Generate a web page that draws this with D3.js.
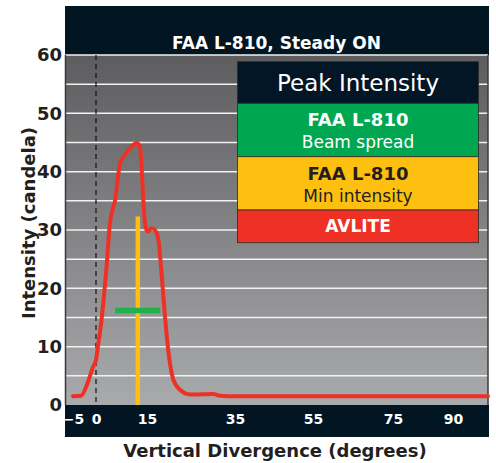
<!DOCTYPE html>
<html>
<head>
<meta charset="utf-8">
<script src="https://cdn.jsdelivr.net/npm/d3@7"></script>
<style>
body { margin: 0; background: #fff; }
text { font-family: "DejaVu Sans", sans-serif; font-weight: bold; }
</style>
</head>
<body>
<div id="chart"></div>
<script>
/* data */
var curve_deg = [-5, -3.2, -2, -0.6, 0, 0.7, 1.2, 3.1, 4.1, 5.6, 7.1, 8.5, 10.5, 12, 12.9, 13.4, 13.9, 14.4, 15.1, 16.1, 16.8, 17.6, 18.3, 19.1, 19.9, 21, 22.5, 24.8, 30, 31.6, 35.6, 99];
var curve_cd = [1.5, 1.6, 3.4, 6.6, 7.7, 10.6, 12.6, 23.7, 31.2, 35.1, 41.5, 42.9, 44.3, 44.9, 44.3, 40.9, 35.1, 31.2, 29.7, 30.3, 30, 28.3, 22.6, 15.1, 8.9, 4.3, 2.6, 1.8, 1.9, 1.6, 1.5, 1.5];
var min_intensity = {deg: 12.3, cd: 32.3};   // yellow bar
var beam_spread = {from: 5.6, to: 18, cd: 16.2}; // green bar
var x_ticks = [-5, 0, 15, 35, 55, 75, 90];
var y_ticks = [0, 10, 20, 30, 40, 50, 60];
var grid_lines = [5, 10, 15, 20, 25, 30, 35, 40, 45, 50, 55, 60];
var legend_rows = [
	{lines: ['Peak Intensity'], fill: '#021625', color: '#fff'},
	{lines: ['FAA L-810', 'Beam spread'], fill: '#00a650', color: '#fff'},
	{lines: ['FAA L-810', 'Min intensity'], fill: '#fdc010', color: '#231f20'},
	{lines: ['AVLITE'], fill: '#ee3124', color: '#fff'}
];

var width = 496, height = 463;
var left = 65, right = 488, top_y = 55, bottom = 405;

var svg = d3.select('#chart').append('svg')
	.attr('width', width).attr('height', height);

// tick labels in the original are placed by hand, so the scale follows them
var xScale = d3.scaleLinear()
	.domain([-6.7, -5, 0, 15, 35, 55, 75, 90, 99])
	.range([left, 73, 96, 147, 235, 313, 393, 453, right]);
var yScale = d3.scaleLinear().domain([0, 60]).range([bottom, top_y]);

var defs = svg.append('defs');
var grad = defs.append('linearGradient').attr('id', 'bg')
	.attr('x1', 0).attr('y1', 0).attr('x2', 0).attr('y2', 1);
grad.append('stop').attr('offset', '0%').attr('stop-color', '#5d5d60');
grad.append('stop').attr('offset', '100%').attr('stop-color', '#a9aaac');

// header + plot background + bottom band
svg.append('rect').attr('x', left).attr('y', 6).attr('width', right - left + 1).attr('height', top_y - 6).attr('fill', '#011522');
svg.append('rect').attr('x', left).attr('y', top_y).attr('width', right - left).attr('height', bottom - top_y).attr('fill', 'url(#bg)');
svg.append('rect').attr('x', left).attr('y', bottom).attr('width', right - left + 1).attr('height', 32).attr('fill', '#011522');

// grid
svg.append('g').selectAll('line').data(grid_lines).enter().append('line')
	.attr('x1', left).attr('x2', right)
	.attr('y1', function (d) { return yScale(d); })
	.attr('y2', function (d) { return yScale(d); })
	.attr('stroke', '#f2f2f2').attr('stroke-width', 1.5);

// frame sides
svg.append('line').attr('x1', left + 0.5).attr('x2', left + 0.5).attr('y1', top_y).attr('y2', bottom).attr('stroke', '#3a3a3c').attr('stroke-width', 1.5);
svg.append('line').attr('x1', right).attr('x2', right).attr('y1', top_y).attr('y2', bottom).attr('stroke', '#3a3a3c').attr('stroke-width', 1.5);

// zero line
svg.append('line')
	.attr('x1', xScale(0)).attr('x2', xScale(0))
	.attr('y1', top_y).attr('y2', bottom)
	.attr('stroke', '#111').attr('stroke-width', 1.2).attr('stroke-dasharray', '5,4');

// yellow & green markers
svg.append('line')
	.attr('x1', xScale(min_intensity.deg)).attr('x2', xScale(min_intensity.deg))
	.attr('y1', yScale(min_intensity.cd)).attr('y2', bottom)
	.attr('stroke', '#fdc010').attr('stroke-width', 4.5);
svg.append('line')
	.attr('x1', xScale(beam_spread.from)).attr('x2', xScale(beam_spread.to))
	.attr('y1', yScale(beam_spread.cd)).attr('y2', yScale(beam_spread.cd))
	.attr('stroke', '#1fb14b').attr('stroke-width', 5.5);

// red curve
var pts = curve_deg.map(function (d, i) { return [d, curve_cd[i]]; });
var line = d3.line()
	.x(function (d) { return xScale(d[0]); })
	.y(function (d) { return yScale(d[1]); })
	.curve(d3.curveMonotoneX);
svg.append('path').datum(pts)
	.attr('d', line)
	.attr('fill', 'none').attr('stroke', '#ee3124').attr('stroke-width', 4)
	.attr('stroke-linejoin', 'round').attr('stroke-linecap', 'round');

// axes
var xAxis = d3.axisBottom(xScale).tickValues(x_ticks).tickSize(0).tickPadding(9);
var gx = svg.append('g').attr('transform', 'translate(0,' + bottom + ')').call(xAxis);
gx.select('.domain').remove();
gx.selectAll('text').attr('fill', '#fff').style('font-size', '14px')
	.style('font-family', '"DejaVu Sans", sans-serif').style('font-weight', 'bold');

var yAxis = d3.axisLeft(yScale).tickValues(y_ticks).tickSize(0).tickPadding(3);
var gy = svg.append('g').attr('transform', 'translate(' + left + ',0)').call(yAxis);
gy.select('.domain').remove();
gy.selectAll('text').attr('fill', '#231f20').style('font-size', '18px')
	.style('font-family', '"DejaVu Sans", sans-serif').style('font-weight', 'bold');

// titles
svg.append('text').text('FAA L-810, Steady ON')
	.attr('x', (left + right) / 2).attr('y', 49).attr('text-anchor', 'middle')
	.attr('fill', '#fff').style('font-size', '17px');
svg.append('text').text('Vertical Divergence (degrees)')
	.attr('x', 275).attr('y', 457).attr('text-anchor', 'middle')
	.attr('fill', '#231f20').style('font-size', '18px');
svg.append('text').text('Intensity (candela)')
	.attr('transform', 'translate(35,223) rotate(-90)').attr('text-anchor', 'middle')
	.attr('fill', '#231f20').style('font-size', '18px');

// legend
var lg = svg.append('g');
var row_y = [61.7, 103.3, 156.7, 210, 242.7];
legend_rows.forEach(function (r, i) {
	var y0 = row_y[i], h = row_y[i + 1] - row_y[i];
	lg.append('rect').attr('x', 237.5).attr('y', y0).attr('width', 241).attr('height', h)
		.attr('fill', r.fill).attr('stroke', '#2a2a2a').attr('stroke-width', 0.8);
	if (r.lines.length == 1) {
		lg.append('text').text(r.lines[0])
			.attr('x', 358).attr('y', y0 + h / 2).attr('dy', '0.36em').attr('text-anchor', 'middle')
			.attr('fill', r.color).style('font-size', i == 0 ? '23px' : '17px')
			.style('font-weight', i == 0 ? 'normal' : 'bold');
	} else {
		lg.append('text').text(r.lines[0])
			.attr('x', 358).attr('y', y0 + 23).attr('text-anchor', 'middle')
			.attr('fill', r.color).style('font-size', '18px');
		lg.append('text').text(r.lines[1])
			.attr('x', 358).attr('y', y0 + 45).attr('text-anchor', 'middle')
			.attr('fill', r.color).style('font-size', '17px').style('font-weight', 'normal');
	}
});
</script>
</body>
</html>
